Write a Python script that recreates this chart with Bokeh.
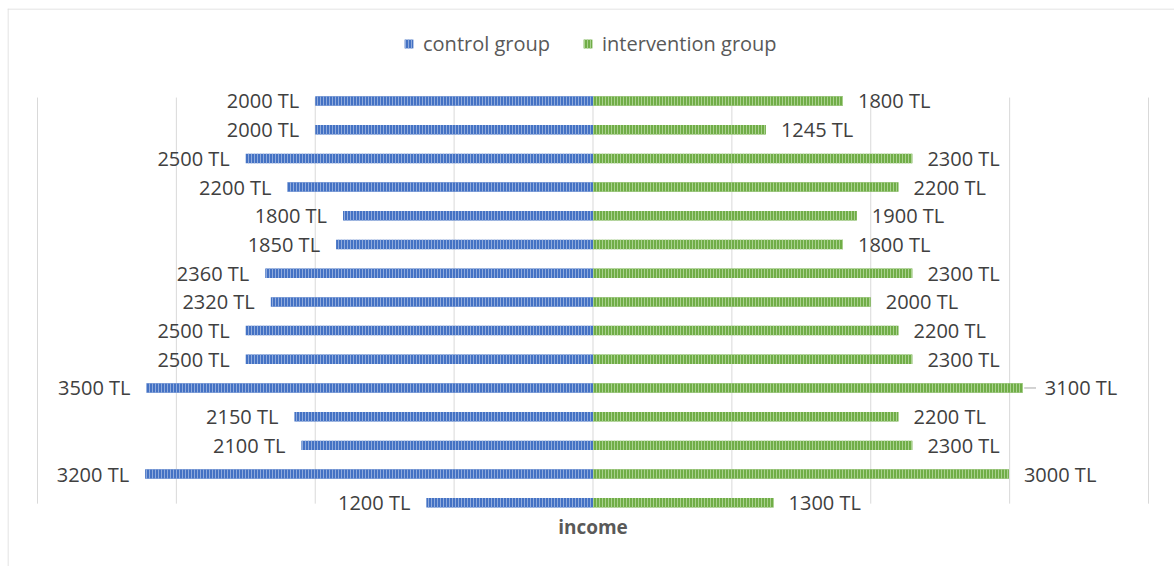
from bokeh.plotting import figure
from bokeh.models import Range1d, Legend, LegendItem, ColumnDataSource, Span
from bokeh.core.properties import value
from bokeh.embed import file_html
from bokeh.resources import INLINE

# ---- data (top row first) ----
rows = list(range(15))
control_values = [2000, 2000, 2500, 2200, 1800, 1850, 2360, 2320, 2500, 2500, 3215, 2150, 2100, 3225, 1200]
control_labels = ["2000 TL", "2000 TL", "2500 TL", "2200 TL", "1800 TL", "1850 TL", "2360 TL", "2320 TL",
                  "2500 TL", "2500 TL", "3500 TL", "2150 TL", "2100 TL", "3200 TL", "1200 TL"]
intervention_values = [1800, 1245, 2300, 2200, 1900, 1800, 2300, 2000, 2200, 2300, 3095, 2200, 2300, 2995, 1300]
intervention_labels = ["1800 TL", "1245 TL", "2300 TL", "2200 TL", "1900 TL", "1800 TL", "2300 TL", "2000 TL",
                       "2200 TL", "2300 TL", "3100 TL", "2200 TL", "2300 TL", "3000 TL", "1300 TL"]
grid_ticks = [-4000, -3000, -2000, -1000, 0, 1000, 2000, 3000, 4000]
series_names = ["control group", "intervention group"]
axis_title = "income"

BLUE, BLUE_H = "#4472C4", "#8FAADC"
GREEN, GREEN_H = "#70AD47", "#A9D18E"
FONT = "Open Sans"
FS = "20px"

W, H = 1174, 566
X0, X1 = -4216.0, 4187.2
Y0, Y1 = -3.223, 16.22
p = figure(width=W, height=H, output_backend="svg", toolbar_location=None,
           x_range=Range1d(X0, X1), y_range=Range1d(Y1, Y0),
           x_axis_location=None, y_axis_location=None,
           min_border_left=7, min_border_top=8, min_border_right=0, min_border_bottom=0,
           outline_line_color=None)
p.xgrid.visible = False
p.ygrid.visible = False

# chart-area border (left and top edges only; the rest lies outside the window)
xs = (X1 - X0) / (W - 7)
ys = (Y1 - Y0) / (H - 8)
p.add_layout(Span(location=X0 + 0.5 * xs, dimension="height", line_color="#D9D9D9", line_width=1))
p.add_layout(Span(location=Y0 + 0.5 * ys, dimension="width", line_color="#D9D9D9", line_width=1))

# gridlines
p.segment(x0=grid_ticks, x1=grid_ticks, y0=[-0.12] * len(grid_ticks), y1=[14.03] * len(grid_ticks),
          line_color="#D9D9D9", line_width=1)

bar_h = 0.33
src_c = ColumnDataSource(dict(y=rows, left=[-v for v in control_values], right=[0] * 15, lab=control_labels))
src_i = ColumnDataSource(dict(y=rows, left=[0] * 15, right=intervention_values, lab=intervention_labels,
                              off=[22 if lab == "3100 TL" else 15 for lab in intervention_labels]))

rc = p.hbar(y="y", left="left", right="right", height=bar_h, source=src_c,
            fill_color=BLUE, line_color=None, hatch_pattern="vertical_line",
            hatch_color=BLUE_H, hatch_scale=3, hatch_weight=1)
ri = p.hbar(y="y", left="left", right="right", height=bar_h, source=src_i,
            fill_color=GREEN, line_color=None, hatch_pattern="vertical_line",
            hatch_color=GREEN_H, hatch_scale=3, hatch_weight=1)

p.text(x="left", y="y", text="lab", source=src_c, text_align="right", text_baseline="middle",
       x_offset=-16, text_font=value(FONT), text_font_size=FS, text_color="#404040")
p.text(x="right", y="y", text="lab", source=src_i, text_align="left", text_baseline="middle",
       x_offset="off", text_font=value(FONT), text_font_size=FS, text_color="#404040")

# leader line for the moved label
k = intervention_labels.index("3100 TL")
v = intervention_values[k]
p.segment(x0=[v + 10], x1=[v + 95], y0=[rows[k]], y1=[rows[k]], line_color="#A6A6A6", line_width=1)

p.text(x=[0], y=[14.86], text=[axis_title], text_align="center", text_baseline="middle",
       text_font=value(FONT), text_font_size="19px", text_font_style="bold", text_color="#595959")

legend = Legend(items=[LegendItem(label=series_names[0], renderers=[rc]),
                       LegendItem(label=series_names[1], renderers=[ri])],
                orientation="horizontal", location=(396, 509), border_line_color=None,
                background_fill_alpha=0, label_text_font=FONT, label_text_font_size=FS,
                label_text_color="#595959", glyph_width=11, glyph_height=11, label_standoff=9,
                spacing=32, margin=0, padding=0, label_height=20)
p.add_layout(legend)

open("out.html", "w").write(file_html(p, INLINE))
